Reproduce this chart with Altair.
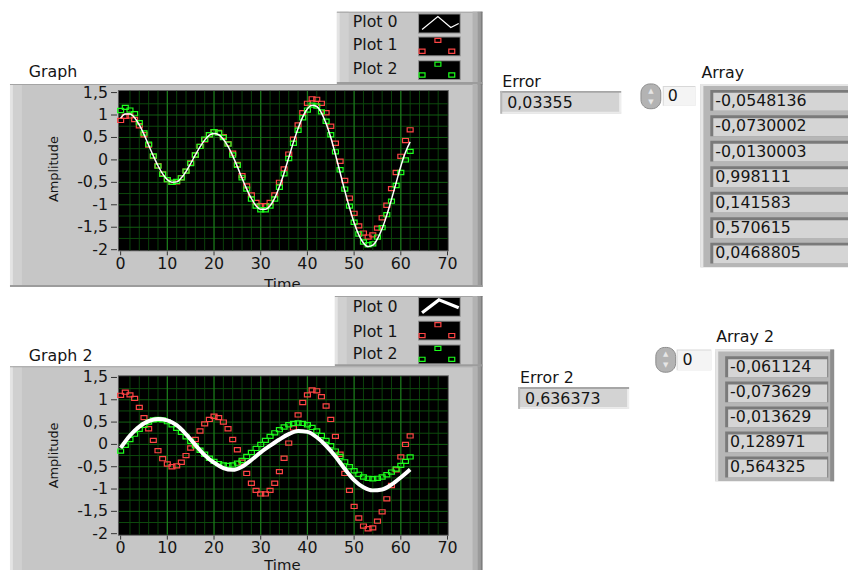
import altair as alt
import pandas as pd

# ---------------- values ----------------
time = list(range(63))

# measured data (Graph: Plot 2, green  /  Graph 2: Plot 1, red)
measured = [1.10, 1.17, 1.11, 1.03, 0.83, 0.60, 0.35, 0.09, -0.14, -0.32,
            -0.44, -0.50, -0.48, -0.40, -0.25, -0.08, 0.11, 0.30, 0.46, 0.56,
            0.63, 0.60, 0.50, 0.35, 0.11, -0.12, -0.40, -0.65, -0.87, -1.03,
            -1.11, -1.11, -1.03, -0.87, -0.61, -0.31, 0.03, 0.37, 0.66, 0.94,
            1.11, 1.22, 1.20, 1.07, 0.86, 0.56, 0.18, -0.22, -0.65, -1.03,
            -1.39, -1.65, -1.83, -1.89, -1.87, -1.72, -1.51, -1.22, -0.92, -0.57,
            -0.28, 0.00, 0.19]

# Graph: Plot 1 (red squares)
graph1_plot1 = [0.88, 0.97, 0.98, 0.90, 0.76, 0.56, 0.33, 0.08, -0.13, -0.31,
                -0.44, -0.50, -0.49, -0.40, -0.25, -0.07, 0.11, 0.30, 0.45, 0.56,
                0.63, 0.61, 0.52, 0.36, 0.15, -0.10, -0.35, -0.58, -0.78, -0.95,
                -1.02, -1.02, -0.95, -0.78, -0.50, -0.20, 0.13, 0.46, 0.78, 1.05,
                1.26, 1.36, 1.35, 1.26, 1.05, 0.75, 0.37, -0.03, -0.46, -0.85,
                -1.19, -1.47, -1.63, -1.72, -1.67, -1.52, -1.29, -1.01, -0.64, -0.28,
                0.08, 0.43, 0.67]

# Graph: Plot 0 (thin white fit)
graph1_plot0 = [0.93, 1.02, 1.02, 0.94, 0.78, 0.57, 0.33, 0.09, -0.13, -0.31,
                -0.44, -0.50, -0.49, -0.40, -0.26, -0.08, 0.11, 0.29, 0.44, 0.55,
                0.59, 0.56, 0.46, 0.30, 0.09, -0.15, -0.41, -0.65, -0.86, -1.02,
                -1.10, -1.10, -1.02, -0.85, -0.60, -0.29, 0.05, 0.39, 0.70, 0.96,
                1.14, 1.22, 1.19, 1.05, 0.81, 0.50, 0.12, -0.28, -0.69, -1.06,
                -1.40, -1.67, -1.85, -1.93, -1.90, -1.76, -1.53, -1.23, -0.88, -0.51,
                -0.14, 0.17, 0.40]

# Graph 2: Plot 2 (green squares)
graph2_plot2 = [-0.15, -0.02, 0.11, 0.23, 0.34, 0.43, 0.50, 0.55, 0.56, 0.55,
                0.51, 0.44, 0.36, 0.27, 0.17, 0.07, -0.03, -0.13, -0.22, -0.31,
                -0.38, -0.43, -0.46, -0.47, -0.46, -0.42, -0.36, -0.27, -0.18, -0.09,
                0.00, 0.09, 0.18, 0.26, 0.33, 0.39, 0.44, 0.47, 0.48, 0.47,
                0.44, 0.38, 0.30, 0.20, 0.09, -0.03, -0.15, -0.27, -0.39, -0.50,
                -0.59, -0.67, -0.73, -0.76, -0.77, -0.76, -0.73, -0.68, -0.62, -0.55,
                -0.47, -0.38, -0.28]

# Graph 2: Plot 0 (thick white fit), read every 2 time units
fit2_time = list(range(0, 63, 2))
graph2_plot0 = [-0.08, 0.20, 0.40, 0.52, 0.57, 0.54, 0.43, 0.23, -0.01, -0.24,
                -0.41, -0.53, -0.57, -0.50, -0.35, -0.18, -0.03, 0.11, 0.23, 0.30,
                0.28, 0.16, -0.03, -0.27, -0.55, -0.80, -0.96, -1.03, -1.01, -0.90,
                -0.74, -0.56]

x_ticks = [0, 10, 20, 30, 40, 50, 60, 70]
x_tick_labels = ["0", "10", "20", "30", "40", "50", "60", "70"]
y_ticks = [1.5, 1, 0.5, 0, -0.5, -1, -1.5, -2]
y_tick_labels = ["1,5", "1", "0,5", "0", "-0,5", "-1", "-1,5", "-2"]
x_minor = [2, 4, 6, 8, 12, 14, 16, 18, 22, 24, 26, 28, 32, 34, 36, 38,
           42, 44, 46, 48, 52, 54, 56, 58, 62, 64, 66, 68]
x_major = [10, 20, 30, 40, 50, 60]
y_minor = [1.25, 0.75, 0.25, -0.25, -0.75, -1.25, -1.75]
y_major = [1, 0.5, 0, -0.5, -1, -1.5]

legend_names = ["Plot 0", "Plot 1", "Plot 2"]
array1_values = ["-0,0548136", "-0,0730002", "-0,0130003", "0,998111",
                 "0,141583", "0,570615", "0,0468805"]
array2_values = ["-0,061124", "-0,073629", "-0,013629", "0,128971", "0,564325"]
error1_value = "0,03355"
error2_value = "0,636373"

# ---------------- layout / style ----------------
M = 8  # page margin
FONT = "DejaVu Sans"
FS = 16
TXT = "#151515"
RED = "#ff4545"
GREEN = "#1cff1c"
SQ = "M-1,-0.7H1V0.7H-1Z"
SQ_SIZE = 36

bg = []
cover = []


def prect(rows, x0, y0, x1, y1, fill):
    rows.append({"x": x0 - M, "x2": x1 - M, "y": y0 - M, "y2": y1 - M, "fill": fill})


def panel(x0, y0, x1, y1):
    prect(bg, x0, y0, x1, y1, "#c6c6c6")
    prect(bg, x0, y0, x0 + 3, y1, "#e4e4e4")
    prect(bg, x0 + 3, y0, x0 + 12, y1, "#d0d0d0")
    prect(bg, x0, y0, x1, y0 + 1, "#a4a4a4")
    prect(bg, x1 - 10, y0, x1 - 5, y1, "#b2b2b2")
    prect(bg, x1 - 5, y0, x1 - 2, y1, "#9a9a9a")
    prect(bg, x1 - 2, y0, x1, y1, "#7e7e7e")
    prect(bg, x0, y1 - 2, x1, y1, "#9c9c9c")


# legend panels + swatches
panel(340, 9, 487, 82)
panel(338, 296, 487, 367)
for (y0, y1) in [(11, 31), (34, 54), (58, 78), (297, 317), (321, 341), (345, 365)]:
    prect(bg, 422, y0, 465, y1, "#8a8a8a")
    prect(bg, 423, y0 + 1, 464, y1 - 1, "#000000")

# graph panels
panel(10, 82, 487, 287)
panel(10, 367, 487, 590)
for (y0, y1) in [(89, 250), (377, 537)]:
    prect(bg, 119, y0 - 1, 453, y1 + 1, "#5e5e5e")
    prect(bg, 120, y0, 452, y1, "#000000")


# numeric indicators
def indicator(x0, y0, x1, y1):
    prect(bg, x0, y0, x1, y1, "#d3d3d3")
    prect(bg, x0, y0, x1, y0 + 2, "#a6a6a6")
    prect(bg, x0, y0, x0 + 2, y1, "#b6b6b6")
    prect(bg, x1 - 2, y0 + 2, x1, y1, "#eeeeee")
    prect(bg, x0 + 2, y1 - 2, x1, y1, "#ebebeb")


indicator(505, 89, 627, 112)
indicator(523, 388, 635, 410)

# index boxes
for (x0, y0, x1, y1) in [(669, 84, 702, 104), (683, 350, 718, 371)]:
    prect(bg, x0, y0, x1, y1, "#d8d8d8")
    prect(bg, x0 + 1, y0 + 1, x1, y1, "#f4f4f4")

# arrays
prect(bg, 707, 82, 860, 267, "#b6b6b6")
prect(bg, 707, 82, 710, 267, "#e6e6e6")
prect(bg, 707, 82, 860, 84, "#e6e6e6")
arr1_text = []
for i, v in enumerate(array1_values):
    t = 88 + 25.7 * i
    prect(bg, 717, t, 860, t + 21, "#7a7a7a")
    prect(bg, 720, t + 3, 860, t + 21, "#d5d5d5")
    arr1_text.append((v, 722, t + 11))

prect(bg, 722, 350, 842, 483, "#b6b6b6")
prect(bg, 722, 350, 725, 483, "#e6e6e6")
prect(bg, 722, 350, 842, 352, "#e6e6e6")
prect(bg, 838, 350, 842, 483, "#8e8e8e")
arr2_text = []
for i, v in enumerate(array2_values):
    t = 357 + 25.3 * i
    prect(bg, 732, t, 836, t + 21, "#7a7a7a")
    prect(bg, 735, t + 3, 835, t + 21, "#d5d5d5")
    arr2_text.append((v, 737, t + 10.5))

# white strip that cuts the first "Time" label at the panel edge
prect(cover, 8, 287, 495, 296, "#ffffff")


def rect_layer(rows):
    return alt.Chart(pd.DataFrame(rows)).mark_rect().encode(
        x=alt.X("x:Q", scale=None, axis=None), x2="x2:Q",
        y=alt.Y("y:Q", scale=None, axis=None), y2="y2:Q",
        color=alt.Color("fill:N", scale=None))


# spinners
spin = []
for (x0, y0, x1, y1) in [(647, 82, 667, 107), (662, 348, 682, 373)]:
    spin.append({"x": x0 - M, "x2": x1 - M, "y": y0 - M, "y2": y1 - M})
spin_layer = alt.Chart(pd.DataFrame(spin)).mark_rect(
    cornerRadius=9, fill="#b3b3b3", stroke="#8c8c8c", strokeWidth=1).encode(
    x=alt.X("x:Q", scale=None, axis=None), x2="x2:Q",
    y=alt.Y("y:Q", scale=None, axis=None), y2="y2:Q")

# legend glyphs
glyph_thin = pd.DataFrame({"x": [426 - M, 442 - M, 455 - M, 463 - M],
                           "y": [27 - M, 14 - M, 25 - M, 21 - M], "i": [0, 1, 2, 3]})
glyph_thick = pd.DataFrame({"x": [426 - M, 443 - M, 463 - M],
                            "y": [313 - M, 300 - M, 308 - M], "i": [0, 1, 2]})


def glyph_line(df, w):
    return alt.Chart(df).mark_line(color="white", strokeWidth=w).encode(
        x=alt.X("x:Q", scale=None, axis=None), y=alt.Y("y:Q", scale=None, axis=None),
        order="i:Q")


def glyph_squares(pts, color):
    df = pd.DataFrame({"x": [p[0] - M for p in pts], "y": [p[1] - M for p in pts]})
    return alt.Chart(df).mark_point(shape=SQ, filled=False, size=SQ_SIZE, strokeWidth=1.2,
                                    color=color, opacity=1).encode(
        x=alt.X("x:Q", scale=None, axis=None), y=alt.Y("y:Q", scale=None, axis=None))


glyphs = [
    glyph_line(glyph_thin, 1.2),
    glyph_line(glyph_thick, 3.2),
    glyph_squares([(442, 38), (426, 49), (456, 49), (442, 325), (426, 336), (456, 336)], RED),
    glyph_squares([(442, 62), (426, 73), (456, 73), (442, 349), (426, 360), (456, 360)], GREEN),
]


# ---------------- graphs ----------------
def graph(ftop, fbot, y_lo, y_hi, series):
    xs = alt.Scale(domain=[0, 70], range=[121.7 - M, 451.7 - M], nice=False, zero=False)
    ys = alt.Scale(domain=[-2, 1.5], range=[y_lo - M, y_hi - M], nice=False, zero=False)
    top, bot, left, right = ftop - M, fbot - M, 120 - M, 452 - M

    def X(f):
        return alt.X(f, scale=xs, axis=None)

    def Y(f):
        return alt.Y(f, scale=ys, axis=None)

    layers = [
        alt.Chart(pd.DataFrame({"v": x_minor})).mark_rule(color="#0b430b", strokeWidth=1).encode(
            x=X("v:Q"), y=alt.value(top), y2=alt.value(bot)),
        alt.Chart(pd.DataFrame({"v": y_minor})).mark_rule(color="#0d4a0d", strokeWidth=1).encode(
            y=Y("v:Q"), x=alt.value(left), x2=alt.value(right)),
        alt.Chart(pd.DataFrame({"v": y_major})).mark_rule(color="#136013", strokeWidth=1).encode(
            y=Y("v:Q"), x=alt.value(left), x2=alt.value(right)),
        alt.Chart(pd.DataFrame({"v": x_major})).mark_rule(color="#1b7a1b", strokeWidth=1.3).encode(
            x=X("v:Q"), y=alt.value(top), y2=alt.value(bot)),
    ]
    layers += [s(X, Y) for s in series]
    yt = pd.DataFrame({"v": y_ticks, "lab": y_tick_labels})
    xt = pd.DataFrame({"v": x_ticks, "lab": x_tick_labels})
    layers += [
        alt.Chart(yt).mark_rule(color="#333333").encode(
            y=Y("v:Q"), x=alt.value(112 - M), x2=alt.value(118 - M)),
        alt.Chart(xt).mark_rule(color="#333333").encode(
            x=X("v:Q"), y=alt.value(bot + 1), y2=alt.value(bot + 5)),
        alt.Chart(yt).mark_text(align="right", baseline="middle", font=FONT, fontSize=FS,
                                color=TXT).encode(
            y=Y("v:Q"), x=alt.value(109 - M), text="lab:N"),
        alt.Chart(xt).mark_text(align="center", baseline="middle", font=FONT, fontSize=FS,
                                color=TXT).encode(
            x=X("v:Q"), y=alt.value(bot + 14), text="lab:N"),
    ]
    return alt.layer(*layers)


def squares(t, v, color):
    df = pd.DataFrame({"t": t, "v": v})
    return lambda X, Y: alt.Chart(df).mark_point(
        shape=SQ, filled=False, size=SQ_SIZE, strokeWidth=1.2, color=color, opacity=1).encode(
        x=X("t:Q"), y=Y("v:Q"))


def curve(t, v, w):
    df = pd.DataFrame({"t": t, "v": v})
    return lambda X, Y: alt.Chart(df).mark_line(
        color="white", strokeWidth=w, interpolate="monotone").encode(
        x=X("t:Q"), y=Y("v:Q"))


g1 = graph(89, 250, 249.3, 90.7, [
    squares(time, graph1_plot1, RED),
    squares(time, measured, GREEN),
    curve(time, graph1_plot0, 1.5),
])
g2 = graph(377, 537, 536, 378.3, [
    squares(time, measured, RED),
    squares(time, graph2_plot2, GREEN),
    curve(fit2_time, graph2_plot0, 4),
])

# ---------------- texts ----------------
left_texts = [("Graph", 29, 70), ("Graph 2", 29, 357)]
for name, y in zip(legend_names, [20, 43, 67]):
    left_texts.append((name, 356, y))
for name, y in zip(legend_names, [307, 332, 355]):
    left_texts.append((name, 356, y))
left_texts += [("Error", 507, 80), (error1_value, 512, 101), ("Array", 708, 71), ("0", 674, 94),
               ("Error 2", 525, 379), (error2_value, 530, 400), ("Array 2", 723, 338),
               ("0", 689, 361)]
left_texts += arr1_text + arr2_text


def text_layer(items, align="left", angle=0, size=FS):
    df = pd.DataFrame({"text": [a for a, _, _ in items],
                       "x": [b - M for _, b, _ in items],
                       "y": [c - M for _, _, c in items]})
    return alt.Chart(df).mark_text(align=align, baseline="middle", font=FONT,
                                   fontSize=size, angle=angle, color=TXT).encode(
        x=alt.X("x:Q", scale=None, axis=None), y=alt.Y("y:Q", scale=None, axis=None),
        text="text:N")


arrows = alt.Chart(pd.DataFrame({"text": ["▲", "▼", "▲", "▼"],
                                 "x": [657 - M, 657 - M, 672 - M, 672 - M],
                                 "y": [89 - M, 100 - M, 355 - M, 366 - M]})).mark_text(
    align="center", baseline="middle", font=FONT, fontSize=7, color="#e6e6e6").encode(
    x=alt.X("x:Q", scale=None, axis=None), y=alt.Y("y:Q", scale=None, axis=None),
    text="text:N")

chart = alt.layer(
    rect_layer(bg),
    spin_layer,
    arrows,
    *glyphs,
    g1,
    g2,
    text_layer(left_texts),
    text_layer([("Time", 285, 284), ("Time", 285, 568)], align="center", size=15),
    text_layer([("Amplitude", 54, 168), ("Amplitude", 54, 457)], align="center",
               angle=270, size=13),
    rect_layer(cover),
).resolve_scale(x="independent", y="independent").properties(
    width=848, height=562, padding=0,
    autosize=alt.AutoSizeParams(type="none"),
    background="white",
).configure_view(stroke=None)

chart.save("out.html", embed_options={"renderer": "svg", "actions": False})
